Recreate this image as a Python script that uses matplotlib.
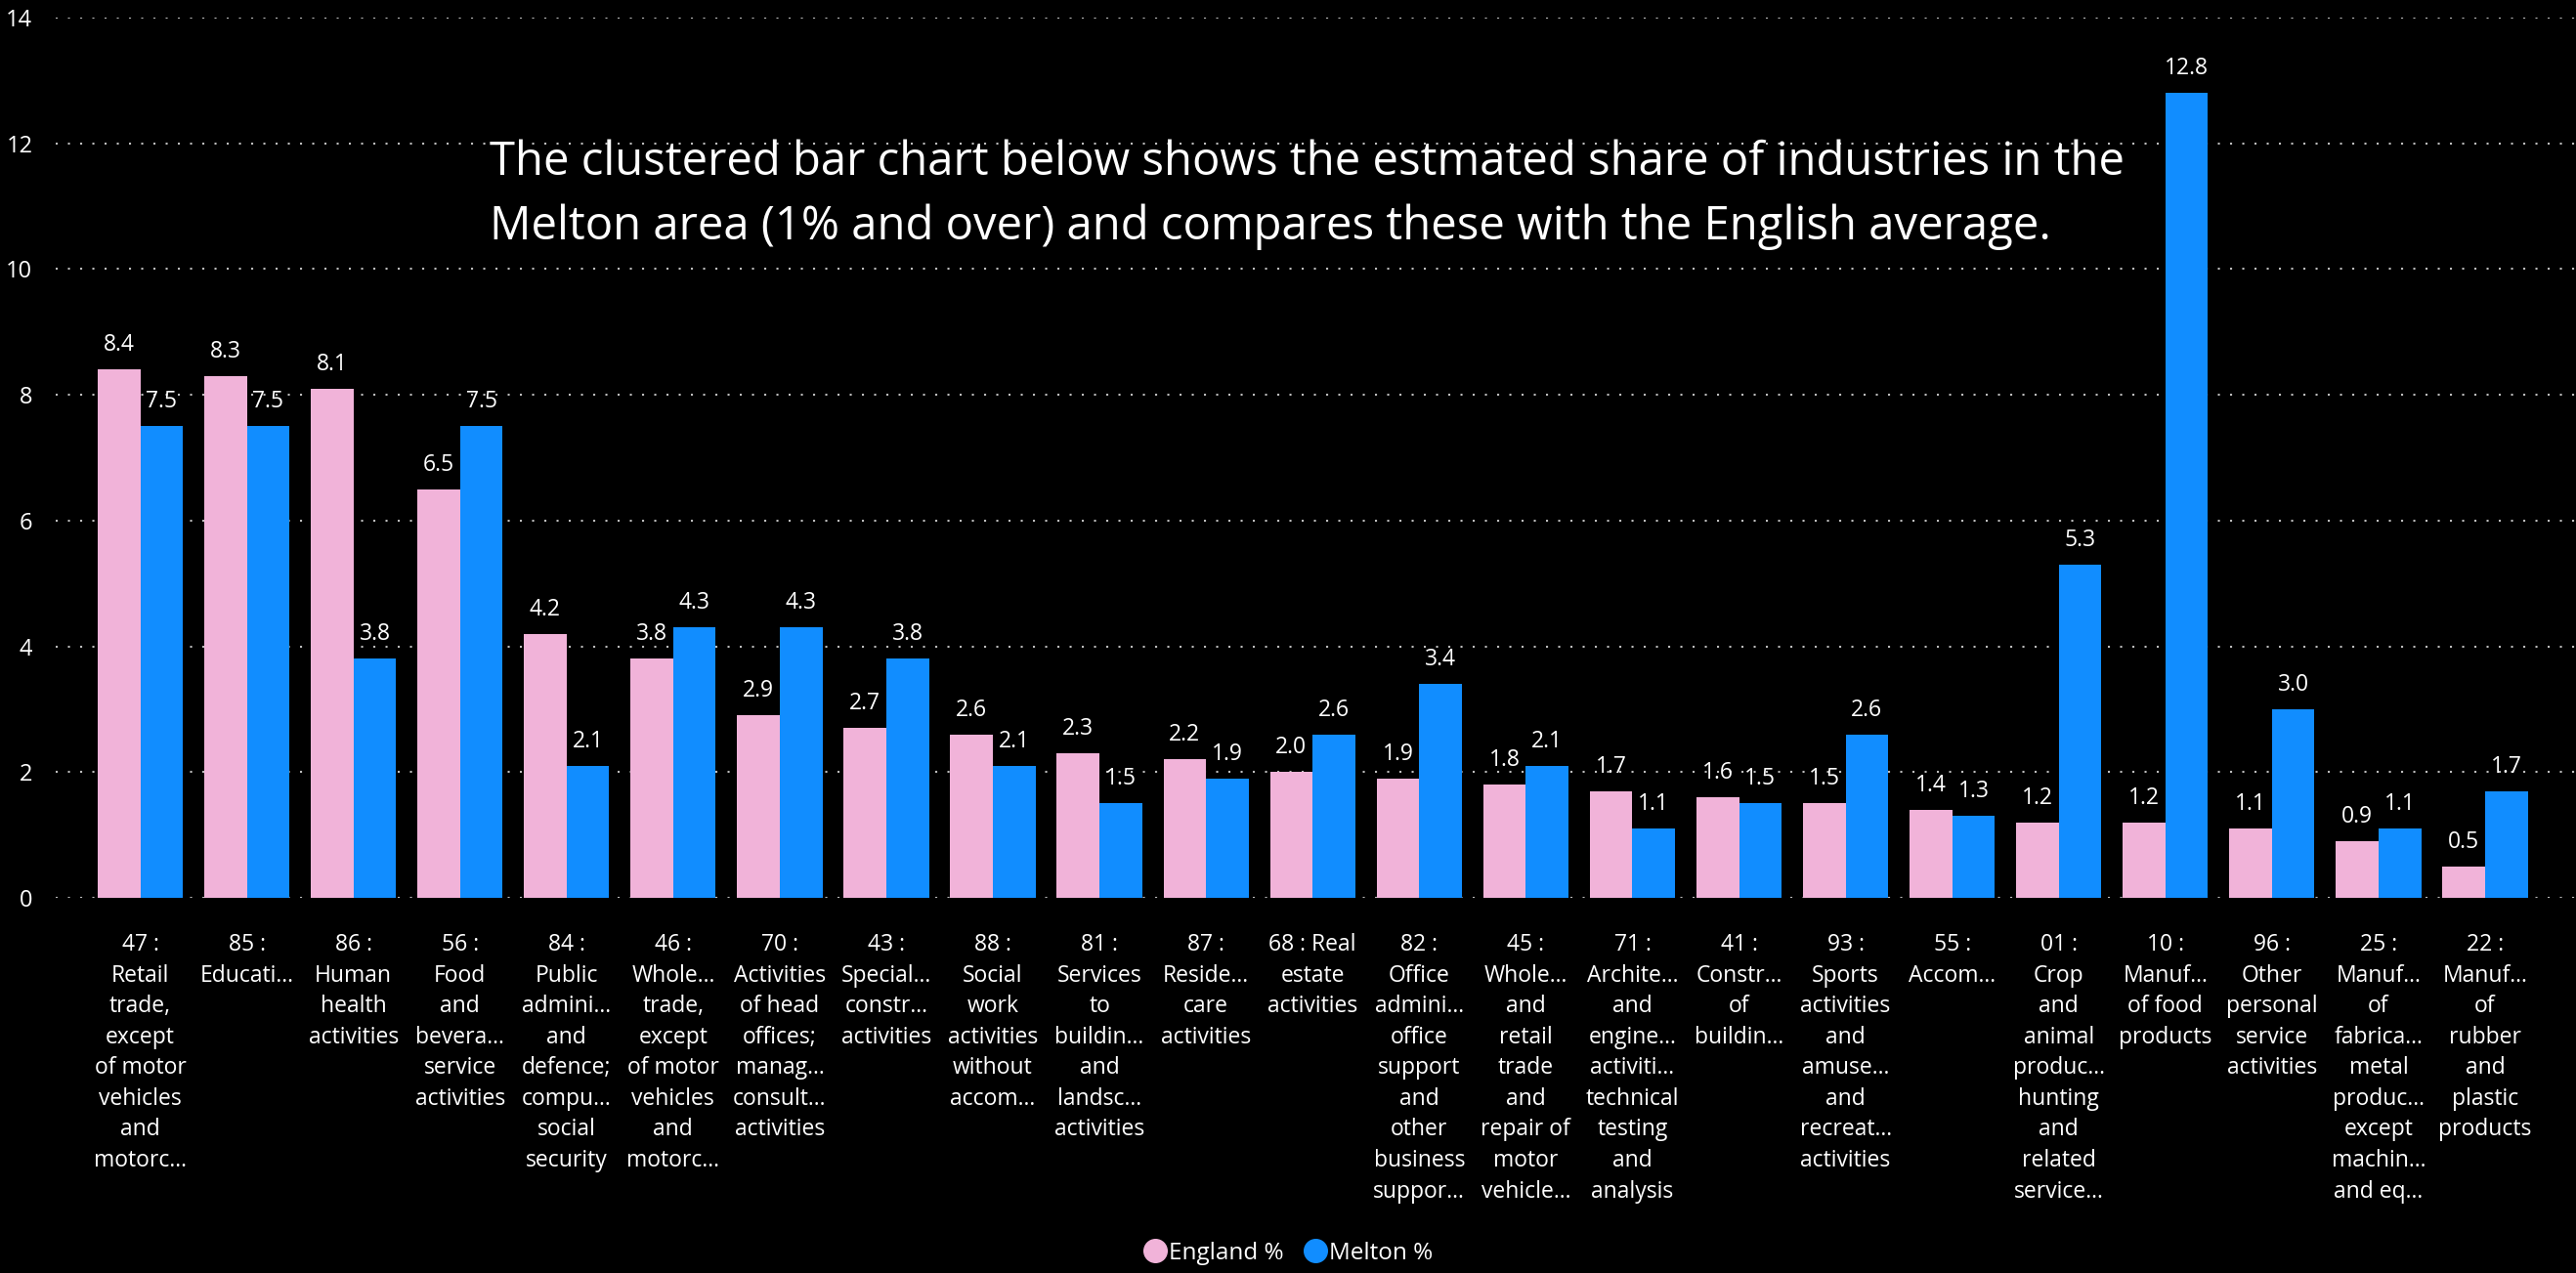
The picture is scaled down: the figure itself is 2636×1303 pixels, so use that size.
import matplotlib
matplotlib.use("Agg")
import matplotlib.pyplot as plt
from matplotlib.lines import Line2D
import numpy as np

categories = [
    "47 :\nRetail\ntrade,\nexcept\nof motor\nvehicles\nand\nmotorc...",
    "85 :\nEducati...",
    "86 :\nHuman\nhealth\nactivities",
    "56 :\nFood\nand\nbevera...\nservice\nactivities",
    "84 :\nPublic\nadmini...\nand\ndefence;\ncompu...\nsocial\nsecurity",
    "46 :\nWhole...\ntrade,\nexcept\nof motor\nvehicles\nand\nmotorc...",
    "70 :\nActivities\nof head\noffices;\nmanag...\nconsult...\nactivities",
    "43 :\nSpecial...\nconstr...\nactivities",
    "88 :\nSocial\nwork\nactivities\nwithout\naccom...",
    "81 :\nServices\nto\nbuildin...\nand\nlandsc...\nactivities",
    "87 :\nReside...\ncare\nactivities",
    "68 : Real\nestate\nactivities",
    "82 :\nOffice\nadmini...\noffice\nsupport\nand\nother\nbusiness\nsuppor...",
    "45 :\nWhole...\nand\nretail\ntrade\nand\nrepair of\nmotor\nvehicle...",
    "71 :\nArchite...\nand\nengine...\nactiviti...\ntechnical\ntesting\nand\nanalysis",
    "41 :\nConstr...\nof\nbuildin...",
    "93 :\nSports\nactivities\nand\namuse...\nand\nrecreat...\nactivities",
    "55 :\nAccom...",
    "01 :\nCrop\nand\nanimal\nproduc...\nhunting\nand\nrelated\nservice...",
    "10 :\nManuf...\nof food\nproducts",
    "96 :\nOther\npersonal\nservice\nactivities",
    "25 :\nManuf...\nof\nfabrica...\nmetal\nproduc...\nexcept\nmachin...\nand eq...",
    "22 :\nManuf...\nof\nrubber\nand\nplastic\nproducts",
]
england = [8.4, 8.3, 8.1, 6.5, 4.2, 3.8, 2.9, 2.7, 2.6, 2.3, 2.2, 2.0, 1.9, 1.8,
           1.7, 1.6, 1.5, 1.4, 1.2, 1.2, 1.1, 0.9, 0.5]
melton = [7.5, 7.5, 3.8, 7.5, 2.1, 4.3, 4.3, 3.8, 2.1, 1.5, 1.9, 2.6, 3.4, 2.1,
          1.1, 1.5, 2.6, 1.3, 5.3, 12.8, 3.0, 1.1, 1.7]
series_names = ["England %", "Melton %"]
yticks = [0, 2, 4, 6, 8, 10, 12, 14]
title_text = ("The clustered bar chart below shows the estmated share of industries in the\n"
              "Melton area (1% and over) and compares these with the English average.")

PINK = "#F1B3D9"
BLUE = "#118DFF"
FONT = ["Open Sans", "DejaVu Sans"]
plt.rcParams["font.family"] = FONT

W, H = 2636, 1303
fig = plt.figure(figsize=(W / 100, H / 100), dpi=100, facecolor="black")
ax = fig.add_axes([57 / W, 1 - 919 / H, 1 - 57 / W, (919 - 18) / H])
ax.set_facecolor("black")

x = np.arange(len(categories))
bw = 0.4
b1 = ax.bar(x - bw / 2, england, bw, color=PINK, zorder=3)
b2 = ax.bar(x + bw / 2, melton, bw, color=BLUE, zorder=3)

for bars, vals in ((b1, england), (b2, melton)):
    for rect, v in zip(bars, vals):
        ax.annotate(f"{v:.1f}", (rect.get_x() + rect.get_width() / 2, v),
                    xytext=(0, 18), textcoords="offset points",
                    ha="center", va="center", color="white", fontsize=16.5, zorder=4)

ax.set_ylim(0, 14)
ax.set_xlim(-86.5 / 109, len(categories) - 1 + 93 / 109)
ax.set_yticks(yticks)
ax.set_yticklabels([str(t) for t in yticks])
ax.set_xticks(x)
ax.set_xticklabels(categories, linespacing=1.42)
ax.tick_params(axis="y", length=0, pad=17, labelsize=17, labelcolor="white")
ax.tick_params(axis="x", length=0, pad=26, labelsize=16.5, labelcolor="white")
for s in ax.spines.values():
    s.set_visible(False)
ax.yaxis.grid(True, color="#BDBDBD", linewidth=1.5, linestyle=(0, (1, 5.0)), zorder=0)
ax.xaxis.grid(False)

ax.text(501, H - 199, title_text, transform=None, color="white", fontsize=34,
        ha="left", va="center", linespacing=1.5, zorder=5)

handles = [Line2D([], [], marker="o", linestyle="none", markersize=17,
                  markerfacecolor=c, markeredgecolor=c) for c in (PINK, BLUE)]
fig.legend(handles, series_names, loc="center", bbox_to_anchor=(0.5, 1 - 1283 / H),
           ncol=2, frameon=False, fontsize=17.5, labelcolor="white",
           handletextpad=0.1, columnspacing=0.8, handlelength=1.0)

fig.savefig("out.png", dpi=100, facecolor="black")
